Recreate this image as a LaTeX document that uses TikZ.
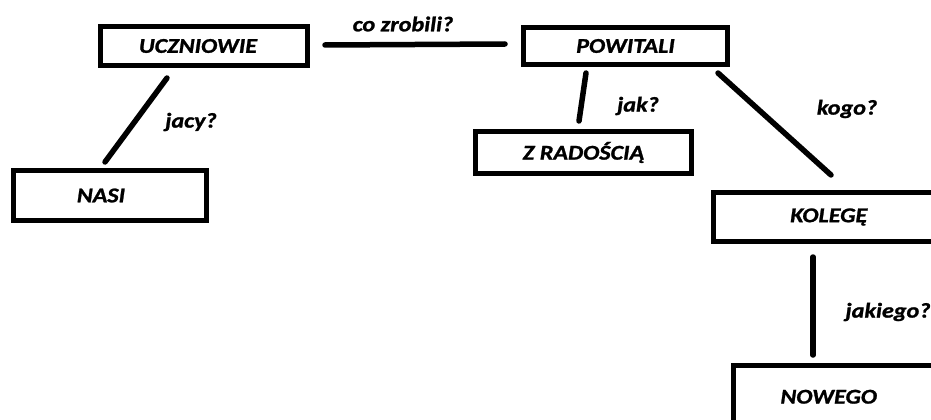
\documentclass[tikz,border=0pt]{standalone}
\usepackage{fontspec}
\setmainfont{Carlito}[FakeStretch=1.15,FakeBold=1.2]
\begin{document}
\begin{tikzpicture}[x=1pt,y=-1pt,
  box/.style={draw=black,line width=5pt,rectangle,inner sep=0pt,font=\fontsize{21}{24}\selectfont\bfseries\itshape},
  lbl/.style={inner sep=0pt,font=\fontsize{21}{24}\selectfont\bfseries\itshape},
  conn/.style={line width=5.5pt,line cap=round}]
\useasboundingbox (0,0) rectangle (931,420);
\clip (0,0) rectangle (931,420);
\fill[white] (0,0) rectangle (931,420);
% boxes
\node[box,minimum width=207pt,minimum height=39pt,label={[lbl,xshift=-6pt]center:UCZNIOWIE}] (ucz) at (204,46) {};
\node[box,minimum width=193pt,minimum height=50pt,label={[lbl,xshift=-9pt]center:NASI}] (nasi) at (110,195.5) {};
\node[box,minimum width=204pt,minimum height=37pt] (pow) at (625.5,46) {POWITALI};
\node[box,minimum width=216pt,minimum height=42pt] (zrad) at (583.5,152.5) {Z RADOŚCIĄ};
\node[box,minimum width=236.5pt,minimum height=49pt,label={[lbl,xshift=-3pt]center:KOLEGĘ}] (kol) at (831.75,217) {};
\node[box,minimum width=216.5pt,minimum height=74.5pt,label={[lbl,xshift=-13pt,yshift=6pt]center:NOWEGO}] (now) at (841.75,402.75) {};
% connector ends
\coordinate (a1) at (167,78);  \coordinate (a2) at (105,162);
\coordinate (b1) at (325,45);  \coordinate (b2) at (505,44);
\coordinate (c1) at (586,73);  \coordinate (c2) at (579,121);
\coordinate (d1) at (718,73);  \coordinate (d2) at (831,175);
\coordinate (e1) at (813,257); \coordinate (e2) at (813,355);
\draw[conn] (a1) -- (a2);
\draw[conn] (b1) -- (b2);
\draw[conn] (c1) -- (c2);
\draw[conn] (d1) -- (d2);
\draw[conn] (e1) -- (e2);
% labels
\node[lbl] (lb) at (403,24) {co zrobili?};
\node[lbl] (la) at (191,122) {jacy?};
\node[lbl] (lc) at (638,106) {jak?};
\node[lbl] (ld) at (847,109) {kogo?};
\node[lbl] (le) at (888,312) {jakiego?};
\end{tikzpicture}
\end{document}
